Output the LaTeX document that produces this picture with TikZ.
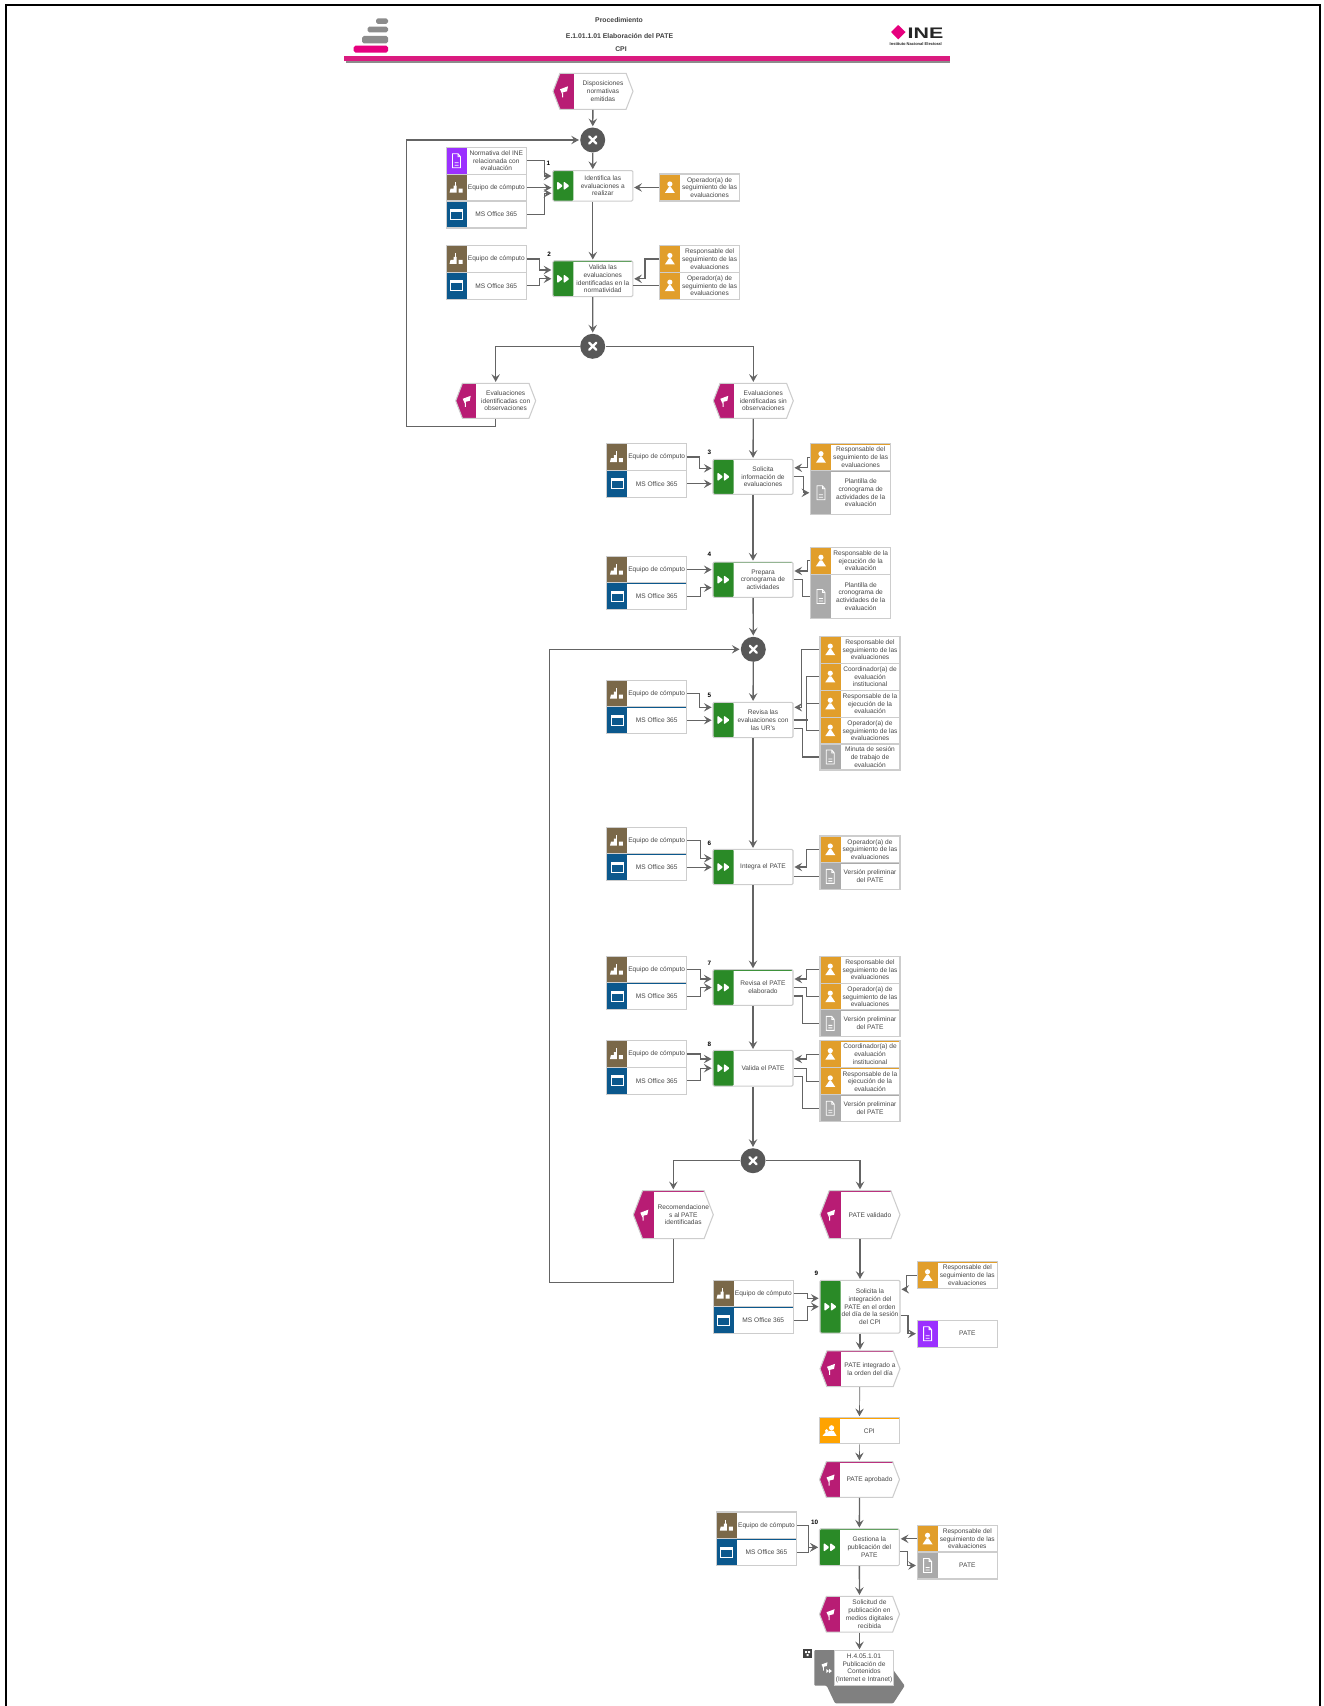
\documentclass[tikz,border=0pt]{standalone}
\usepackage{fontspec}
\setmainfont{Liberation Sans}
\usetikzlibrary{positioning,arrows.meta,shapes.symbols}
\definecolor{flowLine}{RGB}{100,100,100}
\definecolor{boxLine}{RGB}{205,205,205}
\definecolor{txtC}{RGB}{70,70,70}
\definecolor{fnC}{RGB}{42,138,39}
\definecolor{evC}{RGB}{184,28,116}
\definecolor{toolC}{RGB}{122,104,73}
\definecolor{softC}{RGB}{11,88,141}
\definecolor{roleC}{RGB}{225,158,43}
\definecolor{docC}{RGB}{170,170,170}
\definecolor{purC}{RGB}{155,48,255}
\definecolor{cpiC}{RGB}{255,163,0}
\definecolor{gwC}{RGB}{88,88,88}
\definecolor{barC}{RGB}{218,27,127}
\definecolor{logoC}{RGB}{230,0,126}
\newcommand{\icoDoc}{\draw[white,line width=.5pt] (\ix-4,-7)--(\ix+1.5,-7)--(\ix+4,-4)--(\ix+4,7)--(\ix-4,7)--cycle (\ix+1.5,-7)|-(\ix+4,-4) (\ix-2,2)--(\ix+2,2) (\ix-2,4.5)--(\ix+2,4.5);}
\newcommand{\icoWin}{\draw[white,line width=.5pt] (\ix-6,-5) rectangle (\ix+6,5); \fill[white] (\ix-6,-5) rectangle (\ix+6,-2.5);}
\newcommand{\icoMan}{\fill[white] (\ix,-3.5) circle (2.6) (\ix-5,5.5)--(\ix-1,-.5)--(\ix+1,-.5)--(\ix+5,5.5)--cycle;}
\newcommand{\icoTool}{\fill[white] (\ix-7,5)--(\ix-6,1)--(\ix-3,1)--(\ix-3,-2)--(\ix,-2)--(\ix,5)--cycle (\ix+2,1) rectangle (\ix+6,5); \draw[white,line width=.3pt] (\ix-1,-2)--(\ix-1,-6);}
\newcommand{\icoFF}{\fill[white] (\ix-6,-4.5)--(\ix,0)--(\ix-6,4.5)--cycle (\ix+.5,-4.5)--(\ix+6.5,0)--(\ix+.5,4.5)--cycle;}
\newcommand{\icoFlag}{\fill[white] (\ix-4,-2)--(\ix+4,-5)--(\ix+3,0)--(\ix-1,1)--(\ix-2,2.5)--cycle (\ix-1.8,1) rectangle (\ix-.8,6);}
\newcommand{\icoOrg}{\fill[white] (\ix+2,-3) circle (2.6) (\ix-3,0) circle (1.8) (\ix-7,5)--(\ix-4,1.5)--(\ix-2,1.5)--(\ix-.5,0)--(\ix+4,0)--(\ix+7,5)--cycle;}
\tikzset{
  card/.style 2 args={draw=boxLine,line width=.6pt,fill=white,minimum width=1.6cm,minimum height=.54cm,inner sep=0pt,
    path picture={\fill[#1] (path picture bounding box.north west) rectangle ([xshift=.41cm]path picture bounding box.south west);
      \draw[#1,line width=1pt] (path picture bounding box.north west)--(path picture bounding box.north east);
      \def\ix{-29.75}#2}},
  tool/.style={card={toolC}{\icoTool}},
  soft/.style={card={softC}{\icoWin}},
  role/.style={card={roleC}{\icoMan}},
  docg/.style={card={docC}{\icoDoc}},
  docp/.style={card={purC}{\icoDoc}},
  orgn/.style={card={cpiC}{\icoOrg}},
  fn/.style={card={fnC}{\icoFF},rounded corners=.7pt},
  evt/.style={signal,signal to=west and east,signal pointer angle=138,draw=boxLine,line width=.6pt,fill=white,minimum width=1.6cm,minimum height=.7cm,inner sep=0pt,
    path picture={\fill[evC] (path picture bounding box.north west) rectangle ([xshift=.41cm]path picture bounding box.south west);
      \draw[evC,line width=1pt] (path picture bounding box.north west)--(path picture bounding box.north east);
      \def\ix{-29}\icoFlag}},
  gate/.style={circle,fill=gwC,minimum size=.5cm,inner sep=0pt,
    path picture={\draw[white,line width=1.3pt,line cap=round] (-3.5,-3.5)--(3.5,3.5) (-3.5,3.5)--(3.5,-3.5);}},
  cardtxt/.style={inner sep=0pt,xshift=.2cm,align=center,text=txtC,font=\fontsize{3.75}{4.4}\selectfont},
  tx/.style={label={[cardtxt]center:{#1}}},
  ht/.style={minimum height=#1*.02cm},
  num/.style={inner sep=0pt,font=\fontsize{3.6}{4}\selectfont\bfseries},
  head/.style={inner sep=0pt,font=\fontsize{3.9}{4}\selectfont\bfseries,text=black!75},
  flow/.style={->,draw=flowLine,line width=.75pt,shorten >=.5pt},
  thinflow/.style={flow,line width=.4pt},
  lnk/.style={draw=flowLine,line width=.75pt}}
\begin{document}
\begin{tikzpicture}[x=.02cm,y=-.02cm,>={Stealth[length=4.4pt,width=4.8pt,inset=1.7pt]}]
\useasboundingbox (0,0) rectangle (1323,1706);
\draw[line width=1.15pt] (6,1706)--(6,5)--(1320,5)--(1320,1706);

% header
\fill[black!45,rounded corners=1pt] (376,18.3) rectangle (388,24);
\fill[black!45,rounded corners=1pt] (367.5,26.7) rectangle (388,32.3);
\fill[black!45,rounded corners=1pt] (362,36) rectangle (388,43.3);
\fill[logoC,rounded corners=1pt] (353.7,45.7) rectangle (388,52.7);
\fill[black!45] (346,60) rectangle (950.4,62.7);
\fill[barC] (344.3,56) rectangle (950.4,60.7);
\node[head] (hd1) at (619,20) {Procedimiento};
\node[head] (hd2) at (619.5,35.7) {E.1.01.1.01 Elaboración del PATE};
\node[head] (hd3) at (621,48.7) {CPI};
\fill[logoC] (891,32)--(898.2,25)--(905.5,32)--(898.2,39.3)--cycle;
\node[inner sep=0pt,font=\fontsize{8.7}{9}\selectfont\bfseries,xscale=1.4,text=black!85] (inelogo) at (925.5,33.5) {INE};
\node[inner sep=0pt,font=\fontsize{2.3}{3}\selectfont\bfseries,text=black!85] (inesub) at (915.7,43.7) {Instituto Nacional Electoral};

% first block
\node[evt,ht=36,tx={Disposiciones\\normativas\\emitidas}] (ev1) at (593,91.3) {};
\node[gate] (gw1) at (592.7,140) {};
\node[fn,ht=30.5,tx={Identifica las\\evaluaciones a\\realizar}] (fn1) at (592.8,185.8) {};
\node[docp,tx={Normativa del INE\\relacionada con\\evaluación}] (nm1) at (486.3,160.8) {};
\node[tool,tx={Equipo de cómputo}] (eq1) at (486.3,187.7) {};
\node[soft,tx={MS Office 365}] (ms1) at (486.3,214.5) {};
\node[role,tx={Operador(a) de\\seguimiento de las\\evaluaciones}] (op1) at (699.6,187.5) {};
\node[num] (n1) at (548.4,163) {1};

\node[fn,ht=35.7,tx={Valida las\\evaluaciones\\identificadas en la\\normatividad}] (fn2) at (592.8,278.8) {};
\node[tool,tx={Equipo de cómputo}] (eq2) at (486.3,259) {};
\node[soft,tx={MS Office 365}] (ms2) at (486.3,285.7) {};
\node[role,tx={Responsable del\\seguimiento de las\\evaluaciones}] (rs2) at (699.6,259) {};
\node[role,tx={Operador(a) de\\seguimiento de las\\evaluaciones}] (op2) at (699.6,285.7) {};
\node[num] (n2) at (549,254.3) {2};

\node[gate] (gw2) at (592.7,346.3) {};
\node[evt,tx={Evaluaciones\\identificadas con\\observaciones}] (ev2) at (495.7,400.8) {};
\node[evt,tx={Evaluaciones\\identificadas sin\\observaciones}] (ev3) at (753.3,400.8) {};

\draw[flow] (ev1) -- (gw1);
\draw[flow] (gw1) -- (fn1);
\draw[flow] (fn1) -- (fn2);
\draw[flow] (fn2) -- (gw2);
\draw[flow] (gw2.west) -| (ev2.north);
\draw[flow] (gw2.east) -| (ev3.north);
\draw[flow] (ev2.south) -- ++(0,8) -- ++(-89,0) |- (gw1.west);
\draw[flow] (nm1.east) -- ++(18,0) |- ([shift={(0,-9.8)}]fn1.west);
\draw[flow] (eq1.east) -- (eq1.east -| fn1.west);
\draw[flow] (ms1.east) -- ++(18,0) |- ([shift={(0,7.5)}]fn1.west);
\draw[flow] (op1.west) -- (op1.west -| fn1.east);
\draw[flow] (eq2.east) -- ++(12.4,0) |- ([shift={(0,-8.8)}]fn2.west);
\draw[flow] (ms2.east) -- ++(12.4,0) |- (fn2.west);
\draw[flow] (rs2.west) -- ++(-14,0) |- (fn2.east);
\draw[lnk] (op2.west -| fn2.east) -- (op2.west);

% solicita
\node[fn,ht=35,tx={Solicita\\información de\\evaluaciones}] (fn3) at (753,476.8) {};
\node[tool,tx={Equipo de cómputo}] (eq3) at (646.7,457) {};
\node[soft,tx={MS Office 365}] (ms3) at (646.7,483.8) {};
\node[role,tx={Responsable del\\seguimiento de las\\evaluaciones}] (rs3) at (850.7,457.2) {};
\node[docg,ht=44.3,tx={Plantilla de\\cronograma de\\actividades de la\\evaluación}] (pl3) at (850.7,492.8) {};
\node[num] (n3) at (709.3,452.3) {3};
% prepara
\node[fn,ht=35.3,tx={Prepara\\cronograma de\\actividades}] (fn4) at (753,579.7) {};
\node[tool,tx={Equipo de cómputo}] (eq4) at (646.7,569.7) {};
\node[soft,tx={MS Office 365}] (ms4) at (646.7,596.4) {};
\node[role,tx={Responsable de la\\ejecución de la\\evaluación}] (rs4) at (850.7,560.8) {};
\node[docg,ht=44.4,tx={Plantilla de\\cronograma de\\actividades de la\\evaluación}] (pl4) at (850.7,596.5) {};
\node[num] (n4) at (709.3,554.3) {4};

\node[gate] (gw3) at (753.3,649.3) {};
% revisa
\node[fn,ht=35.4,tx={Revisa las\\evaluaciones con\\las UR's}] (fn5) at (753,720) {};
\node[tool,tx={Equipo de cómputo}] (eq5) at (646.7,693.7) {};
\node[soft,tx={MS Office 365}] (ms5) at (646.7,720.2) {};
\node[role,tx={Responsable del\\seguimiento de las\\evaluaciones}] (ra5) at (860,649.7) {};
\node[role,tx={Coordinador(a) de\\evaluación\\institucional}] (rb5) at (860,676.8) {};
\node[role,tx={Responsable de la\\ejecución de la\\evaluación}] (rc5) at (860,703.8) {};
\node[role,tx={Operador(a) de\\seguimiento de las\\evaluaciones}] (rd5) at (860,730.7) {};
\node[docg,ht=26,tx={Minuta de sesión\\de trabajo de\\evaluación}] (mn5) at (860,757) {};
\node[num] (n5) at (709.3,695.7) {5};

\draw[flow] (ev3) -- (fn3);
\draw[flow] (fn3) -- (fn4);
\draw[flow] (fn4) -- (gw3);
\draw[flow] (gw3) -- (fn5);
\draw[flow] (eq3.east) -- ++(12.3,0) |- ([shift={(0,-8.5)}]fn3.west);
\draw[flow] (ms3.east) -- (ms3.east -| fn3.west);
\draw[flow] (rs3.west) -- ++(-2.4,0) |- ([shift={(0,-9)}]fn3.east);
\draw[flow] (fn3.east) -- ++(10,0) |- (pl3.west);
\draw[flow] (eq4.east) -- (eq4.east -| fn4.west);
\draw[flow] (ms4.east) -- ++(13.3,0) |- ([shift={(0,8)}]fn4.west);
\draw[flow] (rs4.west) -- ++(-2.4,0) |- ([shift={(0,-8.7)}]fn4.east);
\draw[lnk] (fn4.east) -- ++(9.3,0) |- (pl4.west);
\draw[flow] (eq5.east) -- ++(12.6,0) |- ([shift={(0,-12.7)}]fn5.west);
\draw[flow] (ms5.east) -- (ms5.east -| fn5.west);
\draw[flow] (ra5.west) -- ++(-18,0) |- ([shift={(0,-12.7)}]fn5.east);
\draw[lnk] (rb5.west) -- ++(-13.3,0) |- (rd5.west);
\draw[lnk] (rc5.west) -- ++(-13.3,0);
\draw[lnk] (fn5.east) -- ++(14,0);
\draw[lnk] ([shift={(0,8.7)}]fn5.east) -- ++(9.3,0) |- (mn5.west);

% integra
\node[fn,ht=35.4,tx={Integra el PATE}] (fn6) at (753,867) {};
\node[tool,tx={Equipo de cómputo}] (eq6) at (646.7,840.7) {};
\node[soft,tx={MS Office 365}] (ms6) at (646.7,867.2) {};
\node[role,tx={Operador(a) de\\seguimiento de las\\evaluaciones}] (op6) at (860,849.5) {};
\node[docg,tx={Versión preliminar\\del PATE}] (vr6) at (860,876.4) {};
\node[num] (n6) at (709.3,843) {6};
% revisa PATE
\node[fn,ht=35.6,tx={Revisa el PATE\\elaborado}] (fn7) at (753,987.5) {};
\node[tool,tx={Equipo de cómputo}] (eq7) at (646.7,969.7) {};
\node[soft,tx={MS Office 365}] (ms7) at (646.7,996.4) {};
\node[role,tx={Responsable del\\seguimiento de las\\evaluaciones}] (ra7) at (860,969.7) {};
\node[role,tx={Operador(a) de\\seguimiento de las\\evaluaciones}] (rb7) at (860,996.7) {};
\node[docg,tx={Versión preliminar\\del PATE}] (vr7) at (860,1023.4) {};
\node[num] (n7) at (709.3,963.3) {7};
% valida PATE
\node[fn,ht=35.7,tx={Valida el PATE}] (fn8) at (753,1068.2) {};
\node[tool,tx={Equipo de cómputo}] (eq8) at (646.7,1054) {};
\node[soft,tx={MS Office 365}] (ms8) at (646.7,1080.8) {};
\node[role,tx={Coordinador(a) de\\evaluación\\institucional}] (ra8) at (860,1054.2) {};
\node[role,tx={Responsable de la\\ejecución de la\\evaluación}] (rb8) at (860,1081.4) {};
\node[docg,tx={Versión preliminar\\del PATE}] (vr8) at (860,1108.2) {};
\node[num] (n8) at (709.3,1044) {8};

\node[gate] (gw4) at (753,1160.7) {};
\node[evt,ht=48,tx={Recomendacione\\s al PATE\\identificadas}] (ev4) at (673.3,1214.7) {};
\node[evt,ht=48,tx={PATE validado}] (ev5) at (860,1214.7) {};

\draw[flow] (fn5) -- (fn6);
\draw[flow] (fn6) -- (fn7);
\draw[flow] (fn7) -- (fn8);
\draw[flow] (fn8) -- (gw4);
\draw[flow] (gw4.west) -| (ev4.north);
\draw[flow] (gw4.east) -| (ev5.north);
\draw[flow] (ev4.south) -- ++(0,43.3) -- ++(-124,0) |- (gw3.west);
\draw[flow] (eq6.east) -- ++(13.3,0) |- ([shift={(0,-8.7)}]fn6.west);
\draw[flow] (ms6.east) -- (ms6.east -| fn6.west);
\draw[flow] (op6.west) -- ++(-13.3,0) |- (fn6.east);
\draw[lnk] (vr6.west -| fn6.east) -- (vr6.west);
\draw[flow] (eq7.east) -- ++(13.3,0) |- ([shift={(0,-8.5)}]fn7.west);
\draw[flow] (ms7.east) -- ++(13.3,0) |- (fn7.west);
\draw[flow] (ra7.west) -- ++(-13.3,0) |- ([shift={(0,-8.5)}]fn7.east);
\draw[lnk] (fn7.east) -- ++(13.3,0) |- (rb7.west);
\draw[lnk] ([shift={(0,8.5)}]fn7.east) -- ++(9.3,0) |- (vr7.west);
\draw[flow] (eq8.east) -- ++(13.3,0) |- ([shift={(0,-9.2)}]fn8.west);
\draw[flow] (ms8.east) -- ++(13.3,0) |- (fn8.west);
\draw[flow] (ra8.west) -- ++(-13.3,0) |- ([shift={(0,-9.2)}]fn8.east);
\draw[lnk] (fn8.east) -- ++(13.3,0) |- (rb8.west);
\draw[lnk] ([shift={(0,8)}]fn8.east) -- ++(9.3,0) |- (vr8.west);

% last block
\node[fn,ht=52.7,tx={Solicita la\\integración del\\PATE en el orden\\del día de la sesión\\del CPI}] (fn9) at (860,1306.7) {};
\node[tool,tx={Equipo de cómputo}] (eq9) at (753.3,1293.7) {};
\node[soft,tx={MS Office 365}] (ms9) at (753.3,1320.2) {};
\node[role,tx={Responsable del\\seguimiento de las\\evaluaciones}] (rs9) at (957.3,1275.3) {};
\node[docp,tx={PATE}] (dc9) at (957.3,1333.7) {};
\node[num] (n9) at (816.3,1273.3) {9};
\node[evt,ht=35.7,tx={PATE integrado a\\la orden del día}] (ev6) at (860,1368.8) {};
\node[orgn,ht=26.3,tx={CPI}] (cpi) at (859.3,1430.8) {};
\node[evt,ht=35.6,tx={PATE aprobado}] (ev7) at (859.5,1479.5) {};
\node[fn,ht=36.7,tx={Gestiona la\\publicación del\\PATE}] (fn10) at (859.3,1547.3) {};
\node[tool,tx={Equipo de cómputo}] (eq10) at (756.5,1525.5) {};
\node[soft,tx={MS Office 365}] (ms10) at (756.5,1552.3) {};
\node[role,tx={Responsable del\\seguimiento de las\\evaluaciones}] (rs10) at (957.3,1538.8) {};
\node[docg,tx={PATE}] (dc10) at (957.3,1565.5) {};
\node[num] (n10) at (814.7,1522.7) {10};
\node[evt,ht=35.7,tx={Solicitud de\\publicación en\\medios digitales\\recibida}] (ev8) at (859.5,1614.2) {};

\fill[black!50,rounded corners=.6pt] (814.3,1650)--(835,1650)--(893.3,1670)--(904.7,1685.7)--(893.3,1703.3)--(835,1703.3)--(826.7,1685.7)--(814.3,1685.7)--cycle;
\def\ix{0}
\begin{scope}[shift={(824.5,1666)},scale=.75] \icoFlag \end{scope}
\begin{scope}[shift={(829,1671)},scale=.45] \icoFF \end{scope}
\node[draw=boxLine,line width=.6pt,fill=white,minimum width=1.17cm,minimum height=.7cm,inner sep=0pt,align=center,text=txtC,font=\fontsize{3.75}{4.3}\selectfont] (proc) at (864,1668.2) {H.4.05.1.01\\Publicación de\\Contenidos\\(Internet e Intranet)};
\node[fill=black!75,minimum size=.17cm,inner sep=0pt,path picture={\fill[white] (-2.5,-2.5) rectangle (-.5,-.5) (.5,-2.5) rectangle (2.5,-.5) (-1,.5) rectangle (1,2.5);}] (procmark) at (807.5,1653.5) {};

\draw[flow] (ev5) -- (fn9);
\draw[flow] (fn9) -- (ev6);
\draw[thinflow] (ev6) -- (cpi);
\draw[thinflow] (cpi) -- (ev7);
\draw[flow] (ev7) -- (fn10);
\draw[flow] (fn10) -- (ev8);
\draw[flow] (ev8.south) -- (ev8.south |- proc.north);
\draw[flow] (eq9.east) -- ++(13.4,0) |- ([shift={(0,-8.4)}]fn9.west);
\draw[flow] (ms9.east) -- ++(13.4,0) |- (fn9.west);
\draw[flow] (rs9.west) -- ++(-10,0) |- ([shift={(0,-17.4)}]fn9.east);
\draw[flow] ([shift={(0,8.6)}]fn9.east) -- ++(7.6,0) |- (dc9.west);
\draw[flow] (eq10.east) -- ++(11.8,0) |- (fn10.west);
\draw[flow] (ms10.east) -- ++(11.8,0) |- (fn10.west);
\draw[flow] (rs10.west) -- (rs10.west -| fn10.east);
\draw[flow] ([shift={(0,4.4)}]fn10.east) -- ++(8,0) |- (dc10.west);
\end{tikzpicture}
\end{document}
